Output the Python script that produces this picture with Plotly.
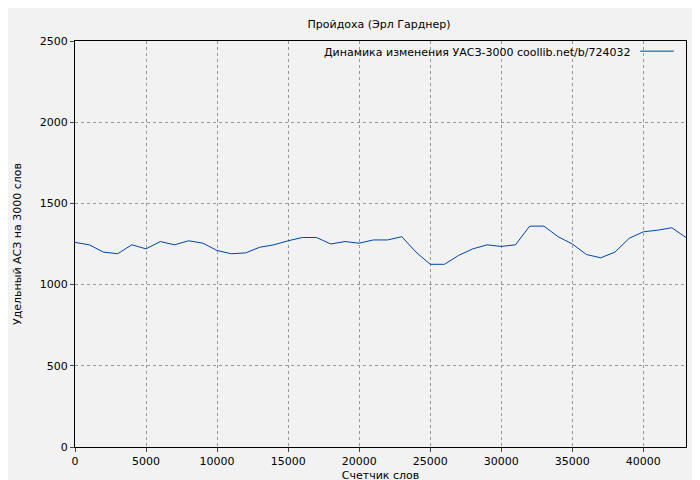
import plotly.graph_objects as go

words = list(range(0, 44000, 1000))
uacs = [1260, 1245, 1200, 1190, 1245, 1220, 1265, 1245, 1270, 1255,
        1210, 1190, 1195, 1230, 1245, 1270, 1290, 1290, 1250, 1265,
        1255, 1275, 1275, 1295, 1200, 1125, 1125, 1180, 1220, 1245,
        1235, 1245, 1360, 1360, 1295, 1250, 1185, 1165, 1200, 1285,
        1325, 1335, 1350, 1290]
legend_text = 'Динамика изменения УАСЗ-3000 coollib.net/b/724032'

fig = go.Figure()
fig.add_trace(go.Scatter(x=words, y=uacs, mode='lines',
                         line=dict(color='#0044aa', width=1),
                         name=legend_text, showlegend=False))

# legend drawn gnuplot-style: text, then line sample
fig.add_annotation(x=0.913, y=0.992, xref='paper', yref='paper', xanchor='right',
                   yanchor='top', text=legend_text, showarrow=False,
                   font=dict(size=11, color='black'))
fig.add_shape(type='line', xref='paper', yref='paper', x0=0.925, x1=0.98,
              y0=0.975, y1=0.975, line=dict(color='#0044aa', width=1))

axis = dict(showline=True, linecolor='black', mirror=True, ticks='outside',
            ticklen=4, gridcolor='#999999', griddash='dot', zeroline=False,
            automargin=False, tickformat='d',
            tickfont=dict(size=11, color='black'))
fig.update_layout(
    width=700, height=480,
    paper_bgcolor='#f2f2f2', plot_bgcolor='#f2f2f2',
    font=dict(family='DejaVu Sans', size=11, color='black'),
    title=dict(text='Пройдоха (Эрл Гарднер)', x=0.53, y=0.975, font=dict(size=11)),
    margin=dict(l=67, r=22, t=33, b=41),
)
fig.update_xaxes(range=[0, 43000], dtick=5000,
                 title=dict(text='Счетчик слов', standoff=4, font=dict(size=11)), **axis)
fig.update_yaxes(range=[0, 2500], dtick=500,
                 title=dict(text='Удельный АСЗ на 3000 слов', font=dict(size=11)), **axis)
fig.write_html("out.html")
